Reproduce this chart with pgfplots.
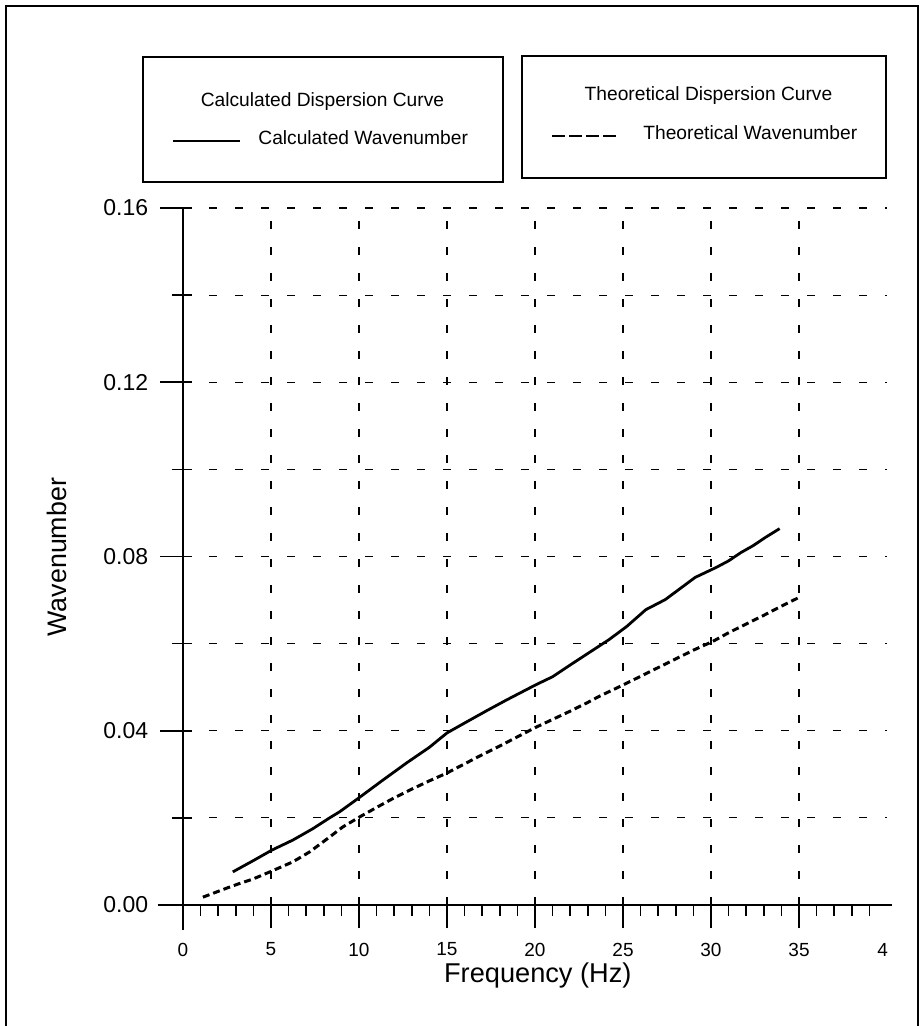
\documentclass[border=0pt]{standalone}
\usepackage{fontspec}
\setmainfont{Liberation Sans}
\usepackage{pgfplots}
\pgfplotsset{compat=1.18}
\begin{document}
\begin{tikzpicture}
\useasboundingbox (-91.5pt,-60.5pt) rectangle (370pt,452.5pt);
\draw[line width=1pt] (-88.5pt,-70pt) rectangle (367.5pt,449.5pt);
% legend boxes
\draw[line width=0.8pt] (-20pt,424pt) rectangle (160pt,361.5pt);
\draw[line width=0.8pt] (169.5pt,424.5pt) rectangle (351.5pt,363.5pt);
\node[anchor=base, font=\fontsize{9.6}{11}\selectfont, inner sep=0pt] at (69.75pt,399pt) {Calculated Dispersion Curve};
\draw[line width=1.4pt] (-5pt,382pt) -- (28.5pt,382pt);
\node[anchor=base west, font=\fontsize{9.6}{11}\selectfont, inner sep=0pt] at (37.5pt,380pt) {Calculated Wavenumber};
\node[anchor=base, font=\fontsize{9.6}{11}\selectfont, inner sep=0pt] at (262.75pt,402pt) {Theoretical Dispersion Curve};
\draw[line width=1.4pt, dash pattern=on 6.5pt off 2pt] (184.5pt,384.5pt) -- (216.5pt,384.5pt);
\node[anchor=base west, font=\fontsize{9.6}{11}\selectfont, inner sep=0pt] at (230pt,382.5pt) {Theoretical Wavenumber};
\begin{axis}[
 at={(0pt,0pt)}, anchor=south west,
 scale only axis, width=352pt, height=348.5pt,
 xmin=0, xmax=40, ymin=0, ymax=0.16,
 axis x line=bottom, axis y line=left,
 axis line style={-, line width=0.8pt, black},
 x axis line style={shorten <=-12.5pt, shorten >=-2.5pt},
 y axis line style={shorten <=-12.5pt},
 /pgf/number format/assume math mode=true,
 xtick={0,5,...,35}, xticklabels={0,5,10,15,20,25,30,35},
 ytick={0,0.04,0.08,0.12,0.16},
 yticklabels={0.00,0.04,0.08,0.12,0.16},
 minor y tick num=1,
 tick align=center,
 major tick length=15.75pt,
 minor tick length=10pt,
 major x tick style={yshift=-3.75pt, line width=0.8pt, black},
 major y tick style={xshift=-3.5pt, line width=0.8pt, black},
 minor y tick style={xshift=-0.5pt, line width=0.8pt, black},
 extra x ticks={1,2,3,4,6,7,8,9,11,12,13,14,16,17,18,19,21,22,23,24,26,27,28,29,31,32,33,34,36,37,38,39},
 extra x tick labels={},
 extra x tick style={major tick length=5.5pt, tick align=outside, xmajorgrids=false, every major x tick/.style={line width=0.8pt, black}},
 xmajorgrids, ymajorgrids, yminorgrids,
 major grid style={dash pattern=on 4pt off 9pt, line width=0.6pt, black},
 minor grid style={dash pattern=on 4pt off 9pt, line width=0.6pt, black},
 xticklabel style={font=\fontsize{9.5}{10}\selectfont, yshift=-7.5pt},
 yticklabel style={font=\fontsize{11.5}{12}\selectfont, xshift=-6pt},
 xlabel={Frequency (Hz)}, ylabel={Wavenumber},
 xlabel style={at={(axis description cs:0.504,-0.1119)}, anchor=base, font=\fontsize{13.6}{15}\selectfont},
 ylabel style={at={(axis description cs:-0.179,0.499)}, anchor=center, rotate=0, font=\fontsize{13.4}{15}\selectfont},
 clip=false,
]
\addplot[black, line width=1.4pt] coordinates {
(2.83,0.0076) (4,0.0102) (5.05,0.0126) (6.24,0.0149) (7.37,0.0175) (8.33,0.0200)
(8.9,0.0214) (10.03,0.0247) (11.3,0.0285) (12.7,0.0326) (14,0.0362) (15,0.0395)
(16.1,0.0420) (17.3,0.0447) (18.4,0.0471) (20.07,0.0506) (21,0.0524) (22,0.0551)
(23.1,0.0580) (24.2,0.0609) (25.2,0.0639) (26.3,0.0678) (27.4,0.0701) (28.3,0.0728)
(29.1,0.0752) (30.3,0.0775) (31,0.0790) (31.7,0.0809) (32.4,0.0825) (33.1,0.0844)
(33.9,0.0864)};
\addplot[black, line width=1.5pt, dash pattern=on 3.5pt off 2pt] coordinates {
(1.13,0.0018) (2.83,0.0044) (4,0.0060) (5.05,0.0078) (6.24,0.0099) (7.2,0.0122)
(8.33,0.0156) (9.07,0.0179) (10.03,0.0202) (11,0.0224) (12,0.0246) (13,0.0266)
(14,0.0285) (15,0.0303) (16,0.0324) (17,0.0345) (18,0.0365) (19,0.0386)
(20,0.0407) (21,0.0426) (22,0.0445) (23,0.0465) (23.6,0.0478) (25,0.0505)
(26,0.0525) (27,0.0545) (28,0.0565) (29,0.0585) (30.1,0.0605) (31,0.0625)
(32,0.0645) (33,0.0665) (34,0.0686) (35,0.0706)};
\node[anchor=base, font=\fontsize{9.5}{10}\selectfont, inner sep=0pt] at (axis cs:39.75,0) [yshift=-25.5pt] {4};
\end{axis}
\end{tikzpicture}
\end{document}
